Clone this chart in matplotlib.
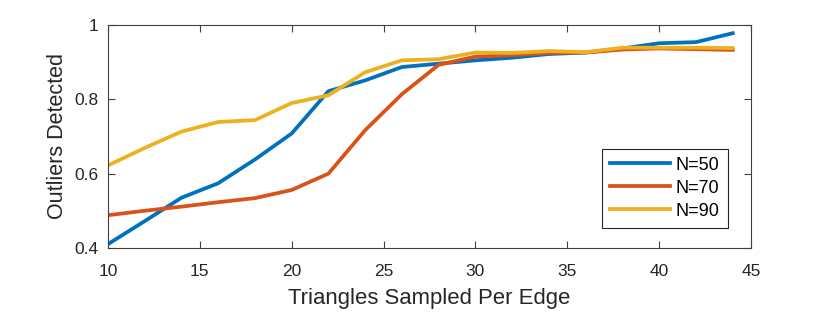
import matplotlib
matplotlib.use('Agg')
import matplotlib.pyplot as plt

plt.rcParams['font.family'] = ['Liberation Sans', 'DejaVu Sans']

# triangles sampled per edge
x = [10, 12, 14, 16, 18, 20, 22, 24, 26, 28, 30, 32, 34, 36, 38, 40, 42, 44]
n50 = [0.41, 0.472, 0.535, 0.574, 0.638, 0.708, 0.822, 0.851, 0.887, 0.896,
       0.905, 0.912, 0.922, 0.926, 0.937, 0.951, 0.954, 0.978]
n70 = [0.488, 0.50, 0.511, 0.523, 0.534, 0.556, 0.60, 0.717, 0.814, 0.893,
       0.915, 0.919, 0.925, 0.926, 0.934, 0.937, 0.935, 0.933]
n90 = [0.622, 0.669, 0.713, 0.739, 0.744, 0.79, 0.811, 0.873, 0.905, 0.908,
       0.926, 0.925, 0.93, 0.927, 0.939, 0.939, 0.939, 0.938]
labels = ['N=50', 'N=70', 'N=90']
colors = ['#0072BD', '#D95319', '#EDB120']

fig = plt.figure(figsize=(8.3, 3.13), dpi=100)
ax = fig.add_axes([0.130, 0.208, 0.775, 0.712])

for ys, lab, c in zip([n50, n70, n90], labels, colors):
    ax.plot(x, ys, color=c, lw=2.7, label=lab)

ax.set_xlim(10, 45)
ax.set_ylim(0.4, 1)
ax.set_xticks([10, 15, 20, 25, 30, 35, 40, 45])
ax.set_yticks([0.4, 0.6, 0.8, 1.0])
ax.set_yticklabels(['0.4', '0.6', '0.8', '1'])
ax.tick_params(direction='in', top=True, right=True, length=5, width=0.8,
               color='#404040', labelsize=12.5, labelcolor='#262626')
ax.tick_params(axis='x', pad=11.5)
ax.tick_params(axis='y', pad=6.5)
for s in ax.spines.values():
    s.set_color('#404040')
    s.set_linewidth(0.8)

ax.set_xlabel('Triangles Sampled Per Edge', fontsize=15.9, color='#262626', labelpad=6.5)
ax.set_ylabel('Outliers Detected', fontsize=15.5, color='#262626', labelpad=5)

leg = ax.legend(loc='lower right', bbox_to_anchor=(0.964, 0.09), fontsize=13,
                fancybox=False, framealpha=1, edgecolor='#262626',
                handlelength=3.3, handletextpad=0.35, borderpad=0.45,
                labelspacing=0.33, borderaxespad=0)
leg.get_frame().set_linewidth(0.8)

fig.savefig('out.png', dpi=100)
